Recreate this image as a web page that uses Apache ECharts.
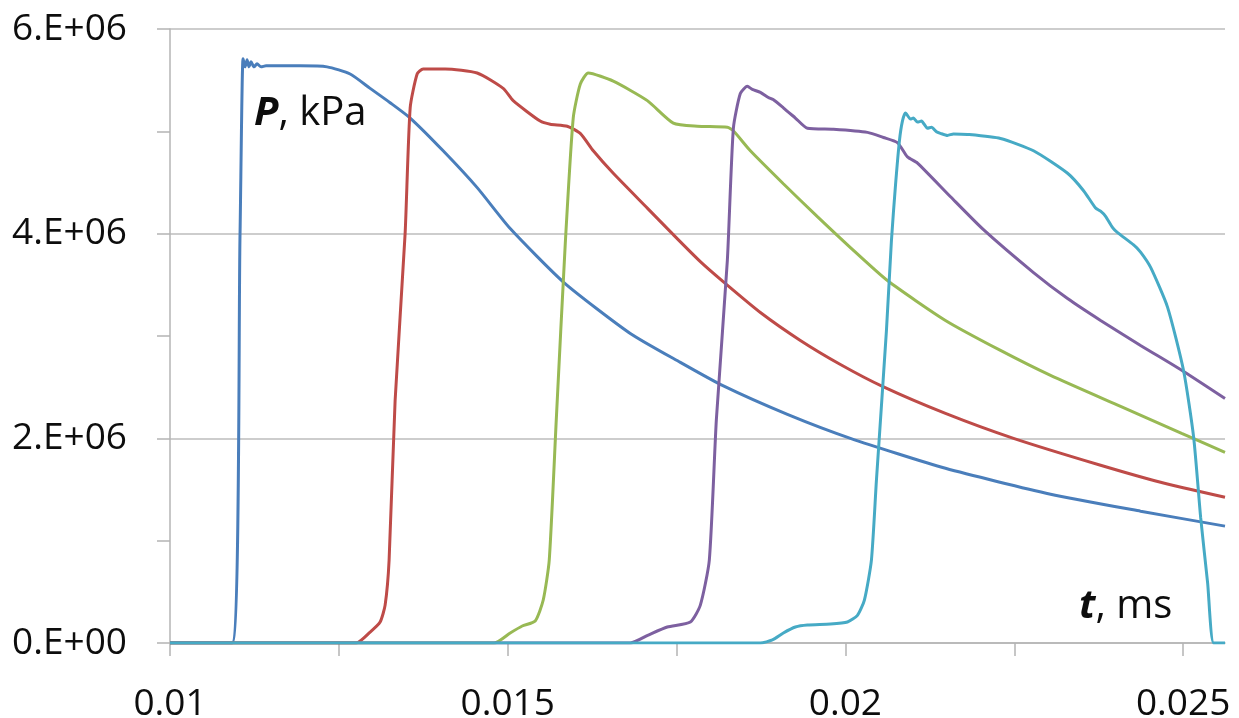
<!DOCTYPE html>
<html>
<head>
<meta charset="utf-8">
<title>P(t)</title>
<script src="https://cdn.jsdelivr.net/npm/echarts@6/dist/echarts.min.js"></script>
<style>
  html, body { margin: 0; padding: 0; background: #ffffff; }
  #chart { width: 1239px; height: 718px; }
</style>
</head>
<body>
<div id="chart"></div>
<script>
// Pressure histories at five gauges: [t, P]
const gauge1 = [
  [0.0100, 0], [0.010919, 0], [0.011037, 4.00e6], [0.011081, 5.71e6],
  [0.011111, 5.63e6], [0.011141, 5.70e6], [0.011170, 5.63e6], [0.011200, 5.68e6],
  [0.011244, 5.63e6], [0.011289, 5.66e6], [0.011348, 5.63e6], [0.011422, 5.64e6],
  [0.011926, 5.64e6], [0.012326, 5.63e6], [0.012667, 5.56e6], [0.012963, 5.42e6],
  [0.013259, 5.28e6], [0.013556, 5.13e6], [0.014044, 4.81e6], [0.014548, 4.45e6],
  [0.015037, 4.05e6], [0.015837, 3.52e6], [0.016815, 3.025e6], [0.017556, 2.742e6],
  [0.018178, 2.517e6], [0.019141, 2.234e6], [0.020074, 2.00e6], [0.021481, 1.707e6],
  [0.023037, 1.454e6], [0.024370, 1.288e6], [0.02562, 1.142e6]
];
const gauge2 = [
  [0.0100, 0], [0.012756, 0], [0.012963, 0.107e6], [0.013111, 0.205e6],
  [0.013185, 0.37e6], [0.013244, 0.81e6], [0.013333, 2.37e6], [0.013481, 4.00e6],
  [0.013556, 5.23e6], [0.013659, 5.56e6], [0.013748, 5.61e6], [0.014074, 5.61e6],
  [0.014548, 5.57e6], [0.014933, 5.42e6], [0.015081, 5.30e6], [0.015481, 5.10e6],
  [0.015630, 5.07e6], [0.015881, 5.05e6], [0.016074, 4.98e6], [0.016267, 4.81e6],
  [0.016563, 4.59e6], [0.017067, 4.25e6], [0.017437, 4.00e6], [0.017852, 3.727e6],
  [0.018207, 3.522e6], [0.018741, 3.23e6], [0.019333, 2.957e6], [0.019926, 2.722e6],
  [0.020548, 2.508e6], [0.021481, 2.244e6], [0.022489, 2.00e6], [0.023778, 1.737e6],
  [0.024667, 1.571e6], [0.02562, 1.424e6]
];
const gauge3 = [
  [0.0100, 0], [0.014800, 0], [0.015037, 0.098e6], [0.015215, 0.166e6],
  [0.015407, 0.215e6], [0.015526, 0.42e6], [0.015615, 0.81e6], [0.015719, 2.18e6],
  [0.015852, 3.90e6], [0.015970, 5.13e6], [0.016074, 5.46e6], [0.016193, 5.57e6],
  [0.016563, 5.49e6], [0.017067, 5.30e6], [0.017452, 5.08e6], [0.017807, 5.05e6],
  [0.018252, 5.04e6], [0.018341, 5.005e6], [0.018593, 4.81e6], [0.019081, 4.488e6],
  [0.019585, 4.166e6], [0.020074, 3.864e6], [0.020622, 3.542e6], [0.021481, 3.152e6],
  [0.022296, 2.859e6], [0.023037, 2.615e6], [0.024074, 2.312e6], [0.024978, 2.049e6],
  [0.02562, 1.864e6]
];
const gauge4 = [
  [0.0100, 0], [0.016815, 0], [0.017081, 0.078e6], [0.017363, 0.156e6],
  [0.017704, 0.205e6], [0.017852, 0.37e6], [0.017985, 0.81e6], [0.018089, 2.18e6],
  [0.018252, 3.74e6], [0.018341, 5.03e6], [0.018444, 5.37e6], [0.018548, 5.44e6],
  [0.018622, 5.41e6], [0.018741, 5.38e6], [0.018859, 5.33e6], [0.018930, 5.31e6],
  [0.019081, 5.23e6], [0.019259, 5.13e6], [0.019437, 5.03e6], [0.019822, 5.02e6],
  [0.020326, 4.99e6], [0.020563, 4.94e6], [0.020770, 4.89e6], [0.020919, 4.75e6],
  [0.021067, 4.69e6], [0.021556, 4.361e6], [0.022044, 4.039e6], [0.022785, 3.62e6],
  [0.023289, 3.366e6], [0.023778, 3.152e6], [0.024370, 2.908e6], [0.025007, 2.654e6],
  [0.02562, 2.39e6]
];
const gauge5 = [
  [0.0100, 0], [0.018741, 0], [0.018919, 0.03e6], [0.019081, 0.098e6],
  [0.019259, 0.156e6], [0.019437, 0.176e6], [0.019778, 0.185e6], [0.020030, 0.205e6],
  [0.020178, 0.27e6], [0.020281, 0.42e6], [0.020385, 0.81e6], [0.020459, 1.59e6],
  [0.020607, 3.05e6], [0.020681, 3.93e6], [0.020741, 4.47e6], [0.020800, 4.91e6],
  [0.020844, 5.10e6], [0.020889, 5.18e6], [0.020963, 5.12e6], [0.021007, 5.13e6],
  [0.021067, 5.09e6], [0.021126, 5.10e6], [0.021215, 5.03e6], [0.021274, 5.04e6],
  [0.021348, 4.995e6], [0.021407, 4.98e6], [0.021511, 4.96e6], [0.021600, 4.975e6],
  [0.021807, 4.97e6], [0.022296, 4.93e6], [0.022785, 4.81e6], [0.023289, 4.59e6],
  [0.023526, 4.42e6], [0.023704, 4.25e6], [0.023778, 4.22e6], [0.023852, 4.17e6],
  [0.023956, 4.06e6], [0.024030, 4.01e6], [0.024267, 3.89e6], [0.024370, 3.82e6],
  [0.024519, 3.67e6], [0.024770, 3.28e6], [0.025007, 2.66e6], [0.025156, 2.01e6],
  [0.025259, 1.23e6], [0.025363, 0.585e6], [0.025452, 0], [0.02562, 0]
];

const seriesData = [gauge1, gauge2, gauge3, gauge4, gauge5];
const seriesColors = ['#4a7ebb', '#be4b48', '#98b954', '#7d60a0', '#46aac5'];

// Axis ticks and labels
const xTickValues = [0.01, 0.0125, 0.015, 0.0175, 0.02, 0.0225, 0.025];
const xLabelValues = [0.01, 0.015, 0.02, 0.025];
const xLabelTexts = ['0.01', '0.015', '0.02', '0.025'];
const yLabelValues = [0, 2e6, 4e6, 6e6];
const yLabelTexts = ['0.E+00', '2.E+06', '4.E+06', '6.E+06'];

const FONT = '"Open Sans", "Liberation Sans", sans-serif';
const AXIS_GRAY = '#b4b4b4';
const TEXT_COLOR = '#0d0d0d';

const chart = echarts.init(document.getElementById('chart'), null, { renderer: 'canvas' });

function labelFor(values, texts) {
  return function (v) {
    for (let i = 0; i < values.length; i++) {
      if (Math.abs(values[i] - v) < 1e-9 * Math.max(1, Math.abs(v))) return texts[i];
    }
    return '';
  };
}

function axisTitle(main, rest) {
  return {
    text: '{b|' + main + '}' + rest,
    fontFamily: FONT, fontSize: 40, fill: TEXT_COLOR,
    rich: { b: { fontWeight: 'bold', fontStyle: 'italic', fontFamily: FONT, fontSize: 40, fill: TEXT_COLOR } }
  };
}

chart.setOption({
  animation: false,
  backgroundColor: '#ffffff',
  grid: {
    left: 170, right: 14, top: 29, bottom: 75,
    outerBoundsMode: 'none'
  },
  xAxis: {
    type: 'value',
    min: 0.01,
    max: 0.02562,
    interval: 0.0025,
    axisLine: { show: true, onZero: false, lineStyle: { color: AXIS_GRAY, width: 1.5 } },
    axisTick: { show: true, inside: false, length: 13, customValues: xTickValues,
                lineStyle: { color: AXIS_GRAY, width: 1.5 } },
    axisLabel: {
      customValues: xLabelValues,
      formatter: labelFor(xLabelValues, xLabelTexts),
      margin: 43,
      color: TEXT_COLOR,
      fontFamily: FONT,
      fontSize: 37
    },
    splitLine: { show: false }
  },
  yAxis: {
    type: 'value',
    min: 0,
    max: 6e6,
    interval: 1e6,
    axisLine: { show: true, lineStyle: { color: AXIS_GRAY, width: 1.5 } },
    axisTick: { show: true, inside: false, length: 13, lineStyle: { color: AXIS_GRAY, width: 1.5 } },
    axisLabel: {
      customValues: yLabelValues,
      formatter: labelFor(yLabelValues, yLabelTexts),
      margin: 43,
      color: TEXT_COLOR,
      fontFamily: FONT,
      fontSize: 37
    },
    splitLine: {
      show: true,
      lineStyle: { color: ['#bdbdbd', 'rgba(0,0,0,0)'], width: 1.5 }
    }
  },
  graphic: [
    { type: 'text', left: 254, top: 94, style: axisTitle('P', ', kPa') },
    { type: 'text', left: 1079, top: 587, style: axisTitle('t', ', ms') }
  ],
  series: seriesData.map(function (d, i) {
    return {
      type: 'line',
      data: d,
      showSymbol: false,
      smooth: 0.2,
      lineStyle: { color: seriesColors[i], width: 3 },
      itemStyle: { color: seriesColors[i] },
      z: 2 + i
    };
  })
});
</script>
</body>
</html>
